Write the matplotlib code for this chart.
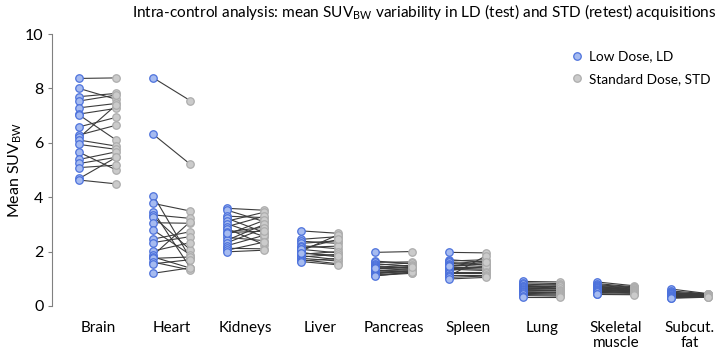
import matplotlib
matplotlib.use('Agg')
import matplotlib.pyplot as plt

plt.rcParams['font.family'] = ['Lato', 'DejaVu Sans']

organs = ['Brain', 'Heart', 'Kidneys', 'Liver', 'Pancreas', 'Spleen', 'Lung',
          'Skeletal\nmuscle', 'Subcut.\nfat']

# Mean SUV_BW per subject: low dose (test) and standard dose (retest)
brain_ld = [8.37, 8.00, 7.70, 7.54, 7.29, 7.06, 7.02, 6.59, 6.29, 6.20, 6.10, 5.94, 5.65, 5.39, 5.24, 5.09, 4.69, 4.63]
brain_std = [8.39, 7.60, 7.82, 7.76, 7.45, 7.27, 6.10, 6.94, 6.65, 7.40, 5.88, 5.76, 5.00, 5.67, 5.47, 5.18, 5.47, 4.49]

heart_ld = [8.39, 6.31, 4.06, 3.77, 3.47, 3.35, 3.28, 3.06, 2.79, 2.46, 2.33, 2.02, 1.87, 1.80, 1.75, 1.61, 1.55, 1.20]
heart_std = [7.55, 5.21, 1.75, 3.49, 1.40, 3.22, 2.06, 3.04, 1.88, 2.73, 2.55, 2.33, 3.10, 1.39, 1.80, 1.32, 1.70, 1.40]

kidneys_ld = [3.59, 3.52, 3.30, 3.22, 3.12, 3.02, 2.92, 2.84, 2.72, 2.63, 2.52, 2.42, 2.33, 2.22, 2.12, 2.05, 1.99, 2.70]
kidneys_std = [3.52, 3.10, 3.25, 2.70, 3.45, 2.55, 3.30, 2.25, 2.90, 3.15, 2.40, 3.00, 2.85, 2.60, 2.10, 2.35, 2.05, 2.75]

liver_ld = [2.76, 2.45, 2.38, 2.30, 2.22, 2.15, 2.08, 2.02, 1.96, 1.90, 1.85, 1.80, 1.75, 1.70, 1.65, 1.63, 2.10, 1.95]
liver_std = [2.67, 2.55, 2.30, 2.40, 2.10, 2.20, 1.95, 2.62, 1.80, 2.00, 1.70, 1.90, 1.65, 1.55, 1.75, 1.51, 2.45, 1.85]

pancreas_ld = [1.97, 1.65, 1.60, 1.55, 1.50, 1.45, 1.42, 1.38, 1.35, 1.30, 1.28, 1.25, 1.22, 1.18, 1.15, 1.12, 1.10, 1.40]
pancreas_std = [2.00, 1.55, 1.62, 1.45, 1.58, 1.40, 1.50, 1.35, 1.45, 1.32, 1.38, 1.28, 1.25, 1.30, 1.22, 1.20, 1.25, 1.42]

spleen_ld = [1.97, 1.70, 1.65, 1.60, 1.55, 1.50, 1.45, 1.42, 1.38, 1.35, 1.30, 1.25, 1.20, 1.15, 1.10, 1.05, 0.99, 1.48]
spleen_std = [1.95, 1.60, 1.70, 1.50, 1.65, 1.45, 1.55, 1.40, 1.35, 1.30, 1.45, 1.25, 1.20, 1.15, 1.85, 1.10, 1.05, 1.60]

lung_ld = [0.90, 0.85, 0.80, 0.75, 0.72, 0.70, 0.68, 0.65, 0.62, 0.60, 0.58, 0.55, 0.52, 0.50, 0.46, 0.42, 0.38, 0.34]
lung_std = [0.88, 0.82, 0.76, 0.78, 0.70, 0.66, 0.72, 0.62, 0.64, 0.58, 0.55, 0.56, 0.50, 0.48, 0.44, 0.40, 0.36, 0.34]

muscle_ld = [0.88, 0.82, 0.78, 0.75, 0.72, 0.70, 0.68, 0.66, 0.64, 0.62, 0.60, 0.58, 0.56, 0.54, 0.52, 0.50, 0.45, 0.42]
muscle_std = [0.74, 0.70, 0.68, 0.66, 0.64, 0.62, 0.60, 0.60, 0.58, 0.56, 0.55, 0.54, 0.52, 0.50, 0.48, 0.46, 0.43, 0.41]

fat_ld = [0.62, 0.55, 0.50, 0.48, 0.46, 0.44, 0.42, 0.40, 0.38, 0.37, 0.36, 0.35, 0.34, 0.33, 0.32, 0.31, 0.30, 0.28]
fat_std = [0.45, 0.44, 0.43, 0.42, 0.42, 0.41, 0.40, 0.40, 0.39, 0.38, 0.38, 0.37, 0.36, 0.36, 0.35, 0.34, 0.33, 0.32]

ld_all = [brain_ld, heart_ld, kidneys_ld, liver_ld, pancreas_ld, spleen_ld, lung_ld, muscle_ld, fat_ld]
std_all = [brain_std, heart_std, kidneys_std, liver_std, pancreas_std, spleen_std, lung_std, muscle_std, fat_std]

fig = plt.figure(figsize=(7.26, 3.52), dpi=100)
ax = fig.add_axes([0.0716, 0.131, 0.9284, 0.772])

off = 0.25
for i, (ld, std) in enumerate(zip(ld_all, std_all)):
    # lines between test and retest
    for a, b in zip(ld, std):
        ax.plot([i - off, i + off], [a, b], color='#3c3c3c', lw=0.8, zorder=1)
    ax.plot([i - off] * len(ld), ld, 'o', ms=5.4, mfc='#a6bbf0', mec='#4d72dc', mew=0.9, zorder=3,
            label='Low Dose, LD' if i == 0 else None)
    ax.plot([i + off] * len(std), std, 'o', ms=5.4, mfc='#cbcbcb', mec='#adadad', mew=0.9, zorder=2,
            label='Standard Dose, STD' if i == 0 else None)

ax.set_xlim(-0.62, 8.49)
ax.set_ylim(0, 10)
ax.set_yticks([0, 2, 4, 6, 8, 10])
ax.set_xticks(range(len(organs)))
ax.set_xticklabels(organs, fontsize=11, linespacing=1.1)
ax.tick_params(axis='x', length=0, pad=11)
ax.tick_params(axis='y', length=3, width=0.8, color='#808080', labelsize=11.5, pad=3)
for s in ['top', 'right', 'bottom']:
    ax.spines[s].set_visible(False)
ax.spines['left'].set_color('#808080')
ax.spines['left'].set_linewidth(0.8)
ax.set_ylabel('Mean SUV$_{\\mathregular{BW}}$', fontsize=11.5, labelpad=1)

ax.legend(loc='upper right', bbox_to_anchor=(0.995, 0.985), frameon=False, fontsize=9.8,
          handletextpad=0.3, labelspacing=0.75, handlelength=1.2)

fig.text(0.585, 0.965, 'Intra-control analysis: mean SUV$_{\\mathregular{BW}}$ variability in LD (test) and STD (retest) acquisitions',
         ha='center', va='center', fontsize=11.1)

fig.savefig('out.png', dpi=100)
